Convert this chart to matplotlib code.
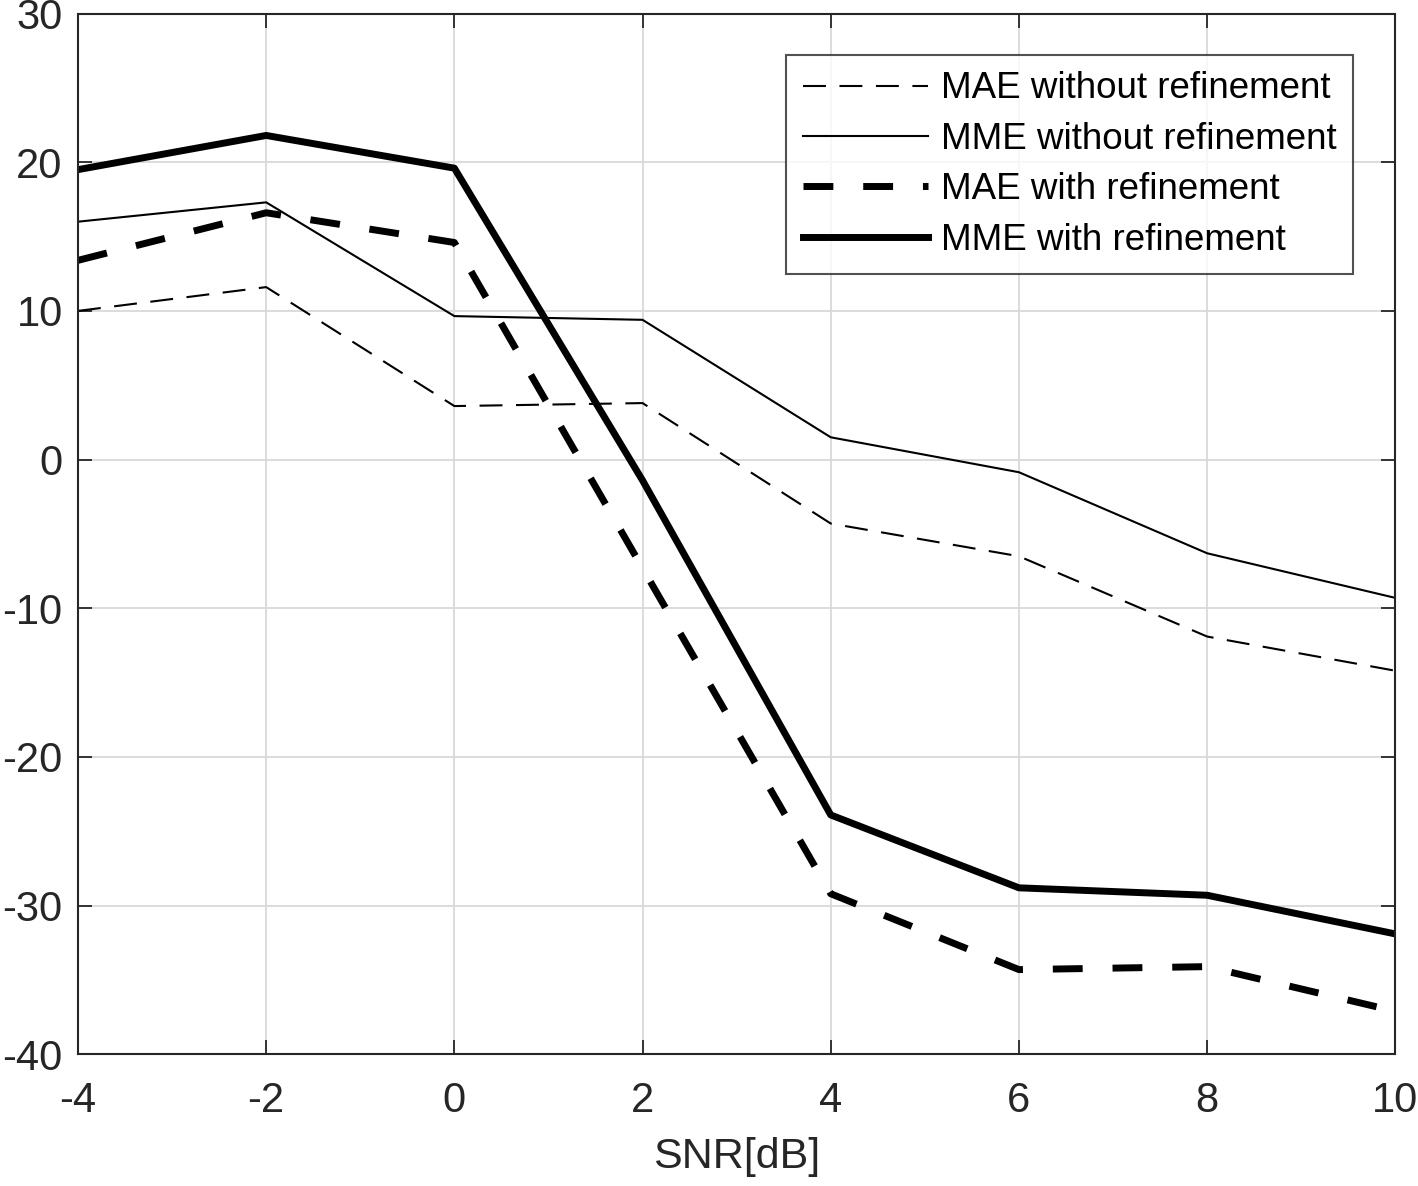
import matplotlib

matplotlib.use("Agg")
import matplotlib.pyplot as plt

snr = [-4, -2, 0, 2, 4, 6, 8, 10]
mae_without = [10.0, 11.6, 3.6, 3.8, -4.3, -6.5, -11.9, -14.2]
mme_without = [16.0, 17.3, 9.65, 9.4, 1.5, -0.85, -6.3, -9.3]
mae_with = [13.4, 16.6, 14.6, -7.3, -29.2, -34.3, -34.1, -37.1]
mme_with = [19.5, 21.8, 19.6, -1.4, -23.9, -28.8, -29.3, -31.9]

plt.rcParams["font.family"] = ["Liberation Sans", "DejaVu Sans"]
plt.rcParams["axes.unicode_minus"] = False

fig = plt.figure(figsize=(14.18, 11.86), dpi=100)
ax = fig.add_axes([0.055, 0.111, 0.929, 0.8776])

ax.plot(snr, mae_without, color="black", lw=1.5, dashes=(11, 6.5), label="MAE without refinement")
ax.plot(snr, mme_without, color="black", lw=1.5, label="MME without refinement")
ax.plot(snr, mae_with, color="black", lw=5, dashes=(4.3, 4.3), label="MAE with refinement")
ax.plot(snr, mme_with, color="black", lw=5, label="MME with refinement")

ax.set_xlim(-4, 10)
ax.set_ylim(-40, 30)
ax.set_xticks(snr)
ax.set_yticks(range(-40, 31, 10))
ax.grid(True, color="#d9d9d9", lw=1.3)
ax.set_axisbelow(True)
ax.tick_params(direction="in", top=True, right=True, labelsize=30,
               colors="#262626", length=10, width=1.3)
ax.tick_params(axis="x", pad=19)
ax.tick_params(axis="y", pad=11)
for s in ax.spines.values():
    s.set_linewidth(1.5)
    s.set_color("#262626")
ax.set_xlabel("SNR[dB]", fontsize=31, color="#262626", labelpad=12)

leg = ax.legend(loc="upper right", bbox_to_anchor=(0.982, 0.978), fontsize=26.5,
                frameon=True, fancybox=False, handlelength=3.4, handletextpad=0.35,
                borderpad=0.45, labelspacing=0.42)
leg.get_frame().set_edgecolor("#262626")
leg.get_frame().set_linewidth(1.5)

fig.savefig("out.png", dpi=100)
